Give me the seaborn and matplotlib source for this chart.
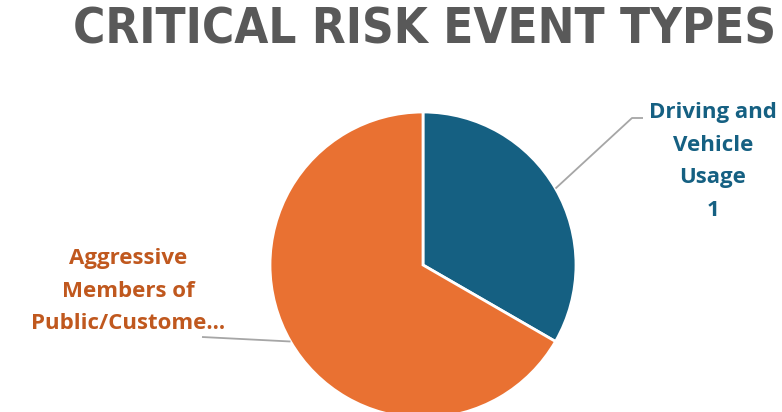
import numpy as np
import matplotlib
matplotlib.use("Agg")
import matplotlib.pyplot as plt
import seaborn as sns

title = "CRITICAL RISK EVENT TYPES"
categories = ["Driving and\nVehicle\nUsage", "Aggressive\nMembers of\nPublic/Custome..."]
values = [1, 2]
value_labels = ["1", ""]

sns.set_theme(style="white")
plt.rcParams['font.family'] = ['DejaVu Sans']

W, H = 782, 412
fig = plt.figure(figsize=(W / 100, H / 100), dpi=100)
ax = fig.add_axes([0, 0, 1, 1])

slice_colors = ["#156082", "#E97132"]
text_colors = ["#156082", "#C0581E"]
cx, cy, r = 423, 147, 153

wedges, _ = ax.pie(values, colors=slice_colors, startangle=90, counterclock=False,
                   center=(cx, cy), radius=r, frame=True,
                   wedgeprops=dict(edgecolor="white", linewidth=2))
ax.set_xlim(0, W)
ax.set_ylim(0, H)
ax.set_aspect('equal')
ax.axis('off')

lab_font = dict(fontsize=16, fontweight='bold', family=['Open Sans', 'DejaVu Sans'],
                linespacing=1.72, ha='center', va='top')

# blue label
w = wedges[0]
ang = np.deg2rad((w.theta1 + w.theta2) / 2)
x0, y0 = cx + r * np.cos(ang), cy + r * np.sin(ang)
ax.plot([x0, 632, 643], [y0, 294, 294], color="#A6A6A6", lw=1.3, solid_capstyle='butt')
lab0 = categories[0] + "\n" + value_labels[0]
ax.text(713, 310, lab0, color=text_colors[0], **lab_font)

# orange label
w = wedges[1]
ang = np.deg2rad((w.theta1 + w.theta2) / 2)
x1, y1 = cx + r * np.cos(ang), cy + r * np.sin(ang)
ax.plot([x1, 202], [y1, 75], color="#A6A6A6", lw=1.3, solid_capstyle='butt')
ax.text(128, 164, categories[1], color=text_colors[1], **lab_font)

fig.text(0.543, 0.929, title, ha='center', va='center', color="#595959", fontsize=35.3,
         fontweight='bold', fontstretch='condensed')

fig.savefig("out.png", dpi=100)
